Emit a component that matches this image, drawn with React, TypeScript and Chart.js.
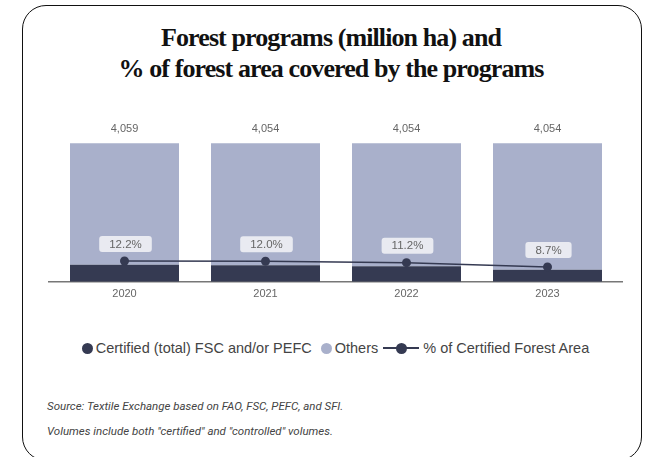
import React, { useEffect, useRef } from "react";
import { Chart, registerables } from "chart.js";

Chart.register(...registerables);

const categories = ["2020", "2021", "2022", "2023"];
const totals = [4059, 4054, 4054, 4054];
const certified = [496, 486, 454, 353];
const others = totals.map((t, i) => t - certified[i]);
const certifiedPct = [12.2, 12.0, 11.2, 8.7];

const DARK = "#353a52";
const LIGHT = "#a9b0cb";

const labelsPlugin = {
  id: "customLabels",
  beforeDatasetsDraw(chart: any) {
    const { ctx, chartArea } = chart;
    ctx.save();
    ctx.strokeStyle = "#777";
    ctx.lineWidth = 1.5;
    ctx.beginPath();
    ctx.moveTo(chartArea.left - 6, chartArea.bottom);
    ctx.lineTo(chartArea.right + 5, chartArea.bottom);
    ctx.stroke();
    ctx.restore();
  },
  afterDatasetsDraw(chart: any) {
    const { ctx } = chart;
    ctx.save();
    ctx.font = "11px 'Liberation Sans', Arial, sans-serif";
    ctx.textAlign = "center";
    ctx.textBaseline = "middle";
    const topMeta = chart.getDatasetMeta(1);
    topMeta.data.forEach((bar: any, i: number) => {
      ctx.fillStyle = "#666";
      ctx.fillText(totals[i].toLocaleString("en-US"), bar.x, bar.y - 14);
    });
    ctx.font = "11.5px 'Liberation Sans', Arial, sans-serif";
    const lineMeta = chart.getDatasetMeta(2);
    lineMeta.data.forEach((pt: any, i: number) => {
      const txt = certifiedPct[i].toFixed(1) + "%";
      const w = ctx.measureText(txt).width + 20;
      const h = 16;
      const cx = pt.x + 1;
      const cy = pt.y - 17;
      ctx.fillStyle = "rgba(236,237,242,0.95)";
      ctx.beginPath();
      (ctx as any).roundRect(cx - w / 2, cy - h / 2, w, h, 3);
      ctx.fill();
      ctx.fillStyle = "#666";
      ctx.fillText(txt, cx, cy + 0.5);
    });
    ctx.restore();
  },
};

function ChartCanvas() {
  const ref = useRef<HTMLCanvasElement>(null);
  useEffect(() => {
    if (!ref.current) return;
    const chart = new Chart(ref.current, {
      data: {
        labels: categories,
        datasets: [
          {
            type: "bar",
            label: "Certified (total) FSC and/or PEFC",
            data: certified,
            backgroundColor: DARK,
            stack: "s",
            yAxisID: "y",
            categoryPercentage: 1,
            barPercentage: 0.773,
            order: 2,
          },
          {
            type: "bar",
            label: "Others",
            data: others,
            backgroundColor: LIGHT,
            stack: "s",
            yAxisID: "y",
            categoryPercentage: 1,
            barPercentage: 0.773,
            order: 2,
          },
          {
            type: "line",
            label: "% of Certified Forest Area",
            data: certifiedPct,
            borderColor: DARK,
            backgroundColor: DARK,
            borderWidth: 1.5,
            pointRadius: 4.5,
            pointBackgroundColor: DARK,
            pointBorderWidth: 0,
            yAxisID: "y1",
            order: 1,
          },
        ],
      } as any,
      options: {
        animation: false,
        responsive: false,
        maintainAspectRatio: false,
        layout: { padding: { top: 11, bottom: 13, left: 54, right: 28 } },
        plugins: {
          legend: { display: false },
          tooltip: { enabled: false },
        },
        scales: {
          x: {
            stacked: true,
            grid: { display: false, drawTicks: false },
            border: { display: false },
            ticks: {
              padding: 6,
              color: "#666",
              font: { family: "'Liberation Sans', Arial, sans-serif", size: 11 },
            },
          },
          y: {
            stacked: true,
            display: false,
            min: 0,
            max: 5000,
          },
          y1: {
            display: false,
            min: 0,
            max: 100,
          },
        },
      } as any,
      plugins: [labelsPlugin],
    });
    return () => chart.destroy();
  }, []);
  return (
    <canvas
      ref={ref}
      width={646}
      height={220}
      style={{ position: "absolute", left: 0, top: 100, width: 646, height: 220 }}
    />
  );
}

const legendText: React.CSSProperties = {
  fontFamily: "'Liberation Sans', Arial, sans-serif",
  fontSize: 14.5,
  color: "#444",
  whiteSpace: "nowrap",
};

function Dot({ color }: { color: string }) {
  return (
    <span
      style={{
        display: "inline-block",
        width: 11,
        height: 11,
        borderRadius: "50%",
        background: color,
        marginRight: 3,
      }}
    />
  );
}

export default function App() {
  return (
    <div
      style={{
        position: "absolute",
        left: 0,
        top: 0,
        width: 646,
        height: 457,
        overflow: "hidden",
        background: "#fff",
      }}
    >
      <div
        style={{
          position: "absolute",
          left: 22,
          top: 5,
          width: 620,
          height: 456,
          border: "1.5px solid #111",
          borderRadius: 24,
          boxSizing: "border-box",
        }}
      />
      <div
        style={{
          position: "absolute",
          left: 0,
          top: 22,
          width: 662,
          textAlign: "center",
          fontFamily: "'Liberation Serif', 'Times New Roman', serif",
          fontWeight: 700,
          fontSize: 26,
          lineHeight: "31px",
          color: "#111",
          letterSpacing: -0.9,
        }}
      >
        <div>Forest programs (million ha) and</div>
        <div>% of forest area covered by the programs</div>
      </div>
      <ChartCanvas />
      <div
        style={{
          position: "absolute",
          left: 0,
          top: 340,
          width: 671,
          display: "flex",
          justifyContent: "center",
          alignItems: "center",
          ...legendText,
        }}
      >
        <Dot color={DARK} />
        <span>Certified (total) FSC and/or PEFC</span>
        <span style={{ width: 9 }} />
        <Dot color={LIGHT} />
        <span>Others</span>
        <span style={{ width: 5 }} />
        <span style={{ position: "relative", display: "inline-block", width: 36, height: 11, marginRight: 4 }}>
          <span style={{ position: "absolute", left: 0, top: 4.5, width: 36, height: 2, background: DARK }} />
          <span
            style={{
              position: "absolute",
              left: 12.5,
              top: 0,
              width: 11,
              height: 11,
              borderRadius: "50%",
              background: DARK,
            }}
          />
        </span>
        <span>% of Certified Forest Area</span>
      </div>
      <div
        style={{
          position: "absolute",
          left: 47,
          top: 394,
          fontFamily: "Roboto, 'Liberation Sans', sans-serif",
          fontStyle: "italic",
          fontSize: 11.5,
          lineHeight: "25px",
          color: "#444",
          whiteSpace: "nowrap",
        }}
      >
        <div>Source: Textile Exchange based on FAO, FSC, PEFC, and SFI.</div>
        <div>Volumes include both "certified" and "controlled" volumes.</div>
      </div>
    </div>
  );
}
